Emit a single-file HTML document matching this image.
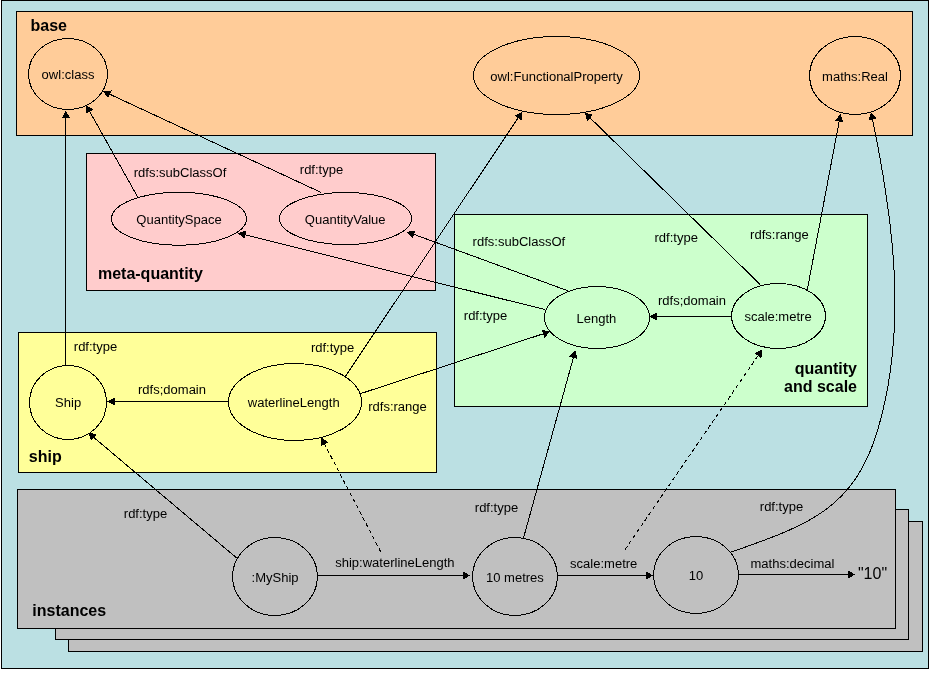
<!DOCTYPE html>
<html><head><meta charset="utf-8"><style>
html,body{margin:0;padding:0;background:#fff;}
svg{display:block;will-change:transform;}
line,ellipse,path,polygon{shape-rendering:crispEdges;}
text{font-family:"Liberation Sans",sans-serif;fill:#000;}
</style></head><body>
<svg width="933" height="676" viewBox="0 0 933 676">
<rect x="0" y="0" width="933" height="676" fill="#fff"/>
<rect x="1.5" y="0.5" width="927" height="668" fill="#BBE0E3" stroke="#000" stroke-width="1"/>
<rect x="16.5" y="11.5" width="896" height="124" fill="#FFCC99" stroke="#000" stroke-width="1"/>
<text x="48.7" y="31" font-size="16" font-weight="bold" text-anchor="middle">base</text>
<ellipse cx="68" cy="74" rx="39.5" ry="35.5" fill="none" stroke="#000" stroke-width="1"/>
<text transform="translate(68,79) scale(0.965,1)" font-size="13.5" text-anchor="middle">owl:class</text>
<ellipse cx="556.5" cy="75.5" rx="83" ry="39" fill="none" stroke="#000" stroke-width="1"/>
<text transform="translate(556.5,81) scale(0.965,1)" font-size="13.5" text-anchor="middle">owl:FunctionalProperty</text>
<ellipse cx="855" cy="75.5" rx="45.5" ry="39" fill="none" stroke="#000" stroke-width="1"/>
<text transform="translate(855,81) scale(0.965,1)" font-size="13.5" text-anchor="middle">maths:Real</text>
<rect x="86.5" y="153.5" width="349" height="137" fill="#FFCCCC" stroke="#000" stroke-width="1"/>
<ellipse cx="179" cy="218.75" rx="67.5" ry="26.5" fill="none" stroke="#000" stroke-width="1"/>
<text transform="translate(179,224) scale(0.965,1)" font-size="13.5" text-anchor="middle">QuantitySpace</text>
<ellipse cx="345.5" cy="218.5" rx="66" ry="26" fill="none" stroke="#000" stroke-width="1"/>
<text transform="translate(345.2,224) scale(0.965,1)" font-size="13.5" text-anchor="middle">QuantityValue</text>
<text transform="translate(180,177) scale(0.965,1)" font-size="13.5" text-anchor="middle">rdfs:subClassOf</text>
<text transform="translate(321.5,174) scale(0.965,1)" font-size="13.5" text-anchor="middle">rdf:type</text>
<text x="150.4" y="279" font-size="16" font-weight="bold" text-anchor="middle">meta-quantity</text>
<rect x="454.5" y="214.5" width="413" height="192" fill="#CCFFCC" stroke="#000" stroke-width="1"/>
<ellipse cx="597" cy="317.5" rx="52.5" ry="31" fill="none" stroke="#000" stroke-width="1"/>
<text transform="translate(596.4,323) scale(0.965,1)" font-size="13.5" text-anchor="middle">Length</text>
<ellipse cx="778.5" cy="316" rx="47" ry="32.5" fill="none" stroke="#000" stroke-width="1"/>
<text transform="translate(778,321) scale(0.965,1)" font-size="13.5" text-anchor="middle">scale:metre</text>
<text transform="translate(518.9,246) scale(0.965,1)" font-size="13.5" text-anchor="middle">rdfs:subClassOf</text>
<text transform="translate(676.2,242) scale(0.965,1)" font-size="13.5" text-anchor="middle">rdf:type</text>
<text transform="translate(779.4,239) scale(0.965,1)" font-size="13.5" text-anchor="middle">rdfs:range</text>
<text transform="translate(692,305) scale(0.965,1)" font-size="13.5" text-anchor="middle">rdfs;domain</text>
<text transform="translate(485.5,320) scale(0.965,1)" font-size="13.5" text-anchor="middle">rdf:type</text>
<text x="857" y="374" font-size="16" font-weight="bold" text-anchor="end">quantity</text>
<text x="857" y="392" font-size="16" font-weight="bold" text-anchor="end">and scale</text>
<rect x="18.5" y="332.5" width="418" height="140" fill="#FFFF99" stroke="#000" stroke-width="1"/>
<ellipse cx="68" cy="402.5" rx="38.5" ry="37" fill="none" stroke="#000" stroke-width="1"/>
<text transform="translate(68.1,407) scale(0.965,1)" font-size="13.5" text-anchor="middle">Ship</text>
<ellipse cx="295" cy="402" rx="66.5" ry="38.5" fill="none" stroke="#000" stroke-width="1"/>
<text transform="translate(293.7,407) scale(0.965,1)" font-size="13.5" text-anchor="middle">waterlineLength</text>
<text transform="translate(95.5,351) scale(0.965,1)" font-size="13.5" text-anchor="middle">rdf:type</text>
<text transform="translate(332.6,352) scale(0.965,1)" font-size="13.5" text-anchor="middle">rdf:type</text>
<text transform="translate(172,394) scale(0.965,1)" font-size="13.5" text-anchor="middle">rdfs;domain</text>
<text transform="translate(397.5,411) scale(0.965,1)" font-size="13.5" text-anchor="middle">rdfs:range</text>
<text x="45.3" y="462" font-size="16" font-weight="bold" text-anchor="middle">ship</text>
<rect x="68.5" y="521.5" width="854" height="130" fill="#C0C0C0" stroke="#000" stroke-width="1"/>
<rect x="55.5" y="509.5" width="853" height="130" fill="#C0C0C0" stroke="#000" stroke-width="1"/>
<rect x="17.5" y="489.5" width="878" height="139" fill="#C0C0C0" stroke="#000" stroke-width="1"/>
<text x="69.2" y="616" font-size="16" font-weight="bold" text-anchor="middle">instances</text>
<ellipse cx="275" cy="576.5" rx="42.5" ry="39" fill="none" stroke="#000" stroke-width="1"/>
<text transform="translate(275.1,582) scale(0.965,1)" font-size="13.5" text-anchor="middle">:MyShip</text>
<ellipse cx="515" cy="576.5" rx="42.5" ry="39" fill="none" stroke="#000" stroke-width="1"/>
<text transform="translate(514.9,582) scale(0.965,1)" font-size="13.5" text-anchor="middle">10 metres</text>
<ellipse cx="696" cy="575" rx="42.5" ry="38.5" fill="none" stroke="#000" stroke-width="1"/>
<text transform="translate(696,580) scale(0.965,1)" font-size="13.5" text-anchor="middle">10</text>
<text transform="translate(145.5,518) scale(0.965,1)" font-size="13.5" text-anchor="middle">rdf:type</text>
<text transform="translate(496.5,512) scale(0.965,1)" font-size="13.5" text-anchor="middle">rdf:type</text>
<text transform="translate(781.5,511) scale(0.965,1)" font-size="13.5" text-anchor="middle">rdf:type</text>
<text transform="translate(394.9,567) scale(0.965,1)" font-size="13.5" text-anchor="middle">ship:waterlineLength</text>
<text transform="translate(603.7,568) scale(0.965,1)" font-size="13.5" text-anchor="middle">scale:metre</text>
<text transform="translate(792.4,568) scale(0.965,1)" font-size="13.5" text-anchor="middle">maths:decimal</text>
<text x="872.5" y="579" font-size="16" text-anchor="middle">&quot;10&quot;</text>
<polygon points="65.90,110.60 70.10,118.20 61.70,118.20" fill="#000"/>
<line x1="65.5" y1="365.4" x2="65.5" y2="118" stroke="#000" stroke-width="1"/>
<polygon points="86.00,105.00 93.38,109.57 86.06,113.68" fill="#000"/>
<line x1="137.7" y1="197" x2="89.72" y2="111.63" stroke="#000" stroke-width="1"/>
<polygon points="103.00,91.10 111.66,90.49 108.12,98.11" fill="#000"/>
<line x1="321.2" y1="192.5" x2="109.89" y2="94.30" stroke="#000" stroke-width="1"/>
<polygon points="522.20,111.70 521.47,120.35 514.49,115.69" fill="#000"/>
<line x1="345.7" y1="376" x2="517.98" y2="118.02" stroke="#000" stroke-width="1"/>
<polygon points="584.70,112.60 593.07,114.92 587.19,120.92" fill="#000"/>
<line x1="760.3" y1="284.6" x2="590.13" y2="117.92" stroke="#000" stroke-width="1"/>
<polygon points="840.60,113.90 843.31,122.15 835.06,120.59" fill="#000"/>
<line x1="807.3" y1="289.7" x2="839.19" y2="121.37" stroke="#000" stroke-width="1"/>
<polygon points="871.10,112.20 876.74,118.80 868.51,120.49" fill="#000"/>
<path d="M730.8,552.2 C804.82,526.12 853.93,510.57 877.7,430.0 C907.87,327.72 893.46,221.25 872.63,119.65" fill="none" stroke="#000" stroke-width="1"/>
<polygon points="406.90,231.80 415.48,230.47 412.59,238.36" fill="#000"/>
<line x1="568.2" y1="290.9" x2="414.04" y2="234.41" stroke="#000" stroke-width="1"/>
<polygon points="237.90,233.00 246.29,230.76 244.26,238.91" fill="#000"/>
<line x1="545" y1="309.6" x2="245.27" y2="234.84" stroke="#000" stroke-width="1"/>
<polygon points="649.50,316.50 657.10,312.30 657.10,320.70" fill="#000"/>
<line x1="731.3" y1="316.5" x2="657.10" y2="316.50" stroke="#000" stroke-width="1"/>
<polygon points="550.30,331.50 544.38,337.86 541.77,329.87" fill="#000"/>
<line x1="360" y1="393.8" x2="543.08" y2="333.86" stroke="#000" stroke-width="1"/>
<polygon points="107.50,401.50 115.10,397.30 115.10,405.70" fill="#000"/>
<line x1="228.3" y1="401.5" x2="115.10" y2="401.50" stroke="#000" stroke-width="1"/>
<polygon points="88.10,432.60 96.62,434.29 91.20,440.71" fill="#000"/>
<line x1="237.3" y1="558.5" x2="93.91" y2="437.50" stroke="#000" stroke-width="1"/>
<polygon points="321.00,437.40 328.24,442.19 320.80,446.08" fill="#000"/>
<line x1="380.8" y1="551.9" x2="324.52" y2="444.14" stroke="#000" stroke-width="1" stroke-dasharray="4,3"/>
<polygon points="575.40,350.50 577.42,358.95 569.32,356.70" fill="#000"/>
<line x1="523.5" y1="538" x2="573.37" y2="357.82" stroke="#000" stroke-width="1"/>
<polygon points="762.20,349.50 761.37,358.14 754.44,353.39" fill="#000"/>
<line x1="625" y1="549.6" x2="757.90" y2="355.77" stroke="#000" stroke-width="1" stroke-dasharray="4,3"/>
<polygon points="470.30,575.50 462.70,579.70 462.70,571.30" fill="#000"/>
<line x1="317.5" y1="575.5" x2="462.70" y2="575.50" stroke="#000" stroke-width="1"/>
<polygon points="653.30,575.50 645.70,579.70 645.70,571.30" fill="#000"/>
<line x1="557.3" y1="575.5" x2="645.70" y2="575.50" stroke="#000" stroke-width="1"/>
<polygon points="855.20,574.50 847.60,578.70 847.60,570.30" fill="#000"/>
<line x1="738.3" y1="574.5" x2="847.60" y2="574.50" stroke="#000" stroke-width="1"/>
</svg>
</body></html>
